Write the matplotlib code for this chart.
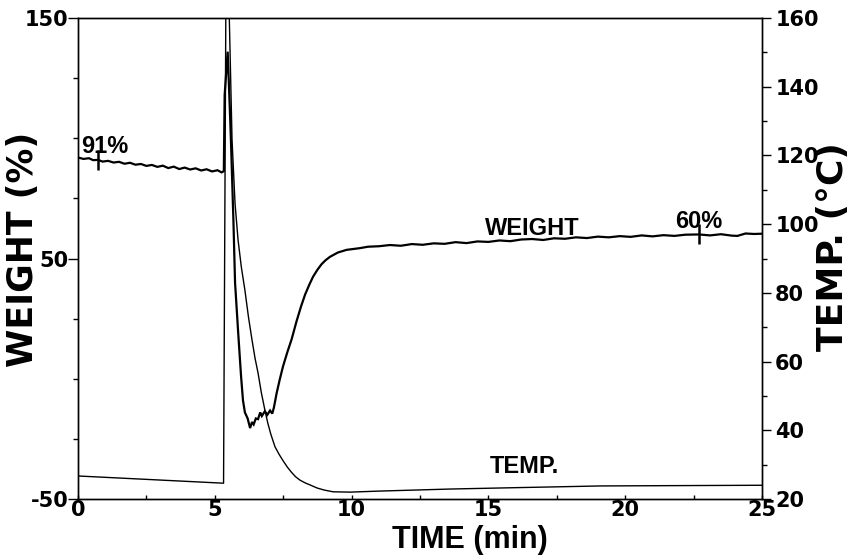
import numpy as np
import matplotlib
matplotlib.use("Agg")
import matplotlib.pyplot as plt
from matplotlib.ticker import MultipleLocator

plt.rcParams['font.family'] = ['Liberation Sans', 'DejaVu Sans']
plt.rcParams['font.weight'] = 'bold'
plt.rcParams['axes.unicode_minus'] = False

# Weight record (%) versus time (min)
time_w = [0.00, 0.20, 0.40, 0.55, 0.73, 0.90, 1.10, 1.30, 1.50, 1.70, 1.90, 2.10,
          2.30, 2.50, 2.70, 2.90, 3.10, 3.30, 3.50, 3.70, 3.90, 4.10, 4.30, 4.50,
          4.70, 4.90, 5.10, 5.25, 5.33,
          5.36, 5.47, 5.55, 5.59, 5.68, 5.74, 5.85, 5.96, 6.03, 6.10, 6.20, 6.29,
          6.36, 6.42, 6.50, 6.58, 6.66, 6.72, 6.83, 6.92, 7.02, 7.10, 7.16, 7.26,
          7.37, 7.49, 7.65, 7.81, 7.99, 8.15, 8.30, 8.45, 8.59, 8.75, 8.90, 9.05,
          9.21, 9.50, 9.82,
          10.3, 10.6, 11.0, 11.4, 11.8, 12.2, 12.6, 13.0, 13.4, 13.8, 14.2, 14.6,
          15.0, 15.4, 15.8, 16.2, 16.6, 17.0, 17.4, 17.8, 18.2, 18.6, 19.0, 19.4,
          19.8, 20.2, 20.6, 21.0, 21.4, 21.8, 22.2, 22.7, 23.1, 23.5, 23.9, 24.1,
          24.4, 24.7, 25.0]
weight = [92.0, 91.4, 91.7, 90.9, 91.0, 90.3, 90.6, 89.9, 90.2, 89.4, 89.8, 89.0,
          89.3, 88.5, 88.9, 88.1, 88.6, 87.6, 88.2, 87.2, 87.8, 87.0, 87.5, 86.6,
          87.1, 86.2, 86.7, 85.8, 86.3,
          118.0, 136.0, 112.0, 99.0, 66.0, 40.0, 20.0, 1.0, -9.0, -14.0, -16.5, -20.5,
          -18.0, -19.0, -16.5, -16.8, -14.0, -15.5, -13.5, -15.0, -13.2, -14.5, -12.0, -6.0,
          -0.5, 5.0, 11.0, 16.5, 24.0, 30.0, 35.0, 39.0, 42.4, 45.3, 47.6, 49.3,
          50.7, 52.5, 53.6,
          54.3, 54.9, 55.1, 55.6, 55.3, 56.0, 55.7, 56.3, 56.1, 56.8, 56.4, 57.1,
          56.9, 57.5, 57.2, 57.9, 58.1, 57.7, 58.4, 58.2, 58.8, 58.5, 59.1, 58.8,
          59.3, 59.0, 59.6, 59.2, 59.7, 59.4, 59.9, 60.0, 59.6, 60.1, 59.5, 59.4,
          60.4, 60.2, 60.3]

# Sample temperature (deg C) versus time (min)
time_t = [0.00, 5.32, 5.42, 5.53, 5.63, 5.74, 5.85, 5.97, 6.10, 6.23, 6.36, 6.47,
          6.58, 6.70, 6.83, 6.94, 7.05, 7.20, 7.35, 7.49, 7.65, 7.80, 7.95, 8.11,
          8.30, 8.45, 8.74, 9.00, 9.32, 9.94, 11.0, 13.6, 16.0, 19.1, 22.0, 25.0]
temp = [26.7, 24.6, 190.0, 160.0, 124.5, 106.0, 95.4, 87.5, 80.8, 73.0, 66.3, 61.0,
        56.7, 51.0, 45.9, 42.0, 38.8, 35.2, 33.0, 31.2, 29.3, 27.8, 26.5, 25.5,
        24.7, 24.2, 23.2, 22.6, 22.1, 22.0, 22.3, 22.9, 23.3, 23.8, 23.9, 24.0]

# Marked weight readings
mark_times = [0.73, 22.7]
mark_labels = ["91%", "60%"]

x_ticks = [0, 5, 10, 15, 20, 25]
w_ticks = [-50, 50, 150]
t_ticks = [20, 40, 60, 80, 100, 120, 140, 160]

fig = plt.figure(figsize=(8.55, 5.6), dpi=100)
ax = fig.add_axes([78 / 855, 1 - 499 / 560, 684 / 855, 481 / 560])
ax2 = ax.twinx()

ax.plot(time_w, weight, color='black', lw=1.6, solid_joinstyle='miter')
ax2.plot(time_t, temp, color='black', lw=1.0)

ax.set_xlim(0, 25)
ax.set_ylim(-50, 150)
ax2.set_ylim(20, 160)

mark_w = np.interp(mark_times, time_w, weight)
ax.plot(mark_times, mark_w, linestyle='none', marker='|', ms=14, mew=1.8,
        color='black')
ax.annotate(mark_labels[0], (mark_times[0], mark_w[0]), xytext=(5, 5),
            textcoords='offset points', ha='center', va='baseline', fontsize=17,
            fontweight='bold')
ax.annotate(mark_labels[1], (mark_times[1], mark_w[1]), xytext=(0, 5),
            textcoords='offset points', ha='center', va='baseline', fontsize=17,
            fontweight='bold')

ax.text(16.6, 62.5, "WEIGHT", ha='center', va='center', fontsize=17,
        fontweight='bold')
ax2.text(16.3, 29.5, "TEMP.", ha='center', va='center', fontsize=17,
         fontweight='bold')

ax.set_xticks(x_ticks)
ax.xaxis.set_minor_locator(MultipleLocator(2.5))
ax.set_yticks(w_ticks)
ax.yaxis.set_minor_locator(MultipleLocator(25))
ax2.set_yticks(t_ticks)
ax2.yaxis.set_minor_locator(MultipleLocator(10))

for spine in list(ax.spines.values()) + list(ax2.spines.values()):
    spine.set_linewidth(1.0)

tick_font = 'DejaVu Sans'
ax.tick_params(axis='x', which='both', direction='in', length=3, width=1,
               labelsize=15, pad=1, labelfontfamily=tick_font)
ax.tick_params(axis='y', which='major', direction='out', length=7, width=1,
               labelsize=15, pad=0, labelfontfamily=tick_font)
ax.tick_params(axis='y', which='minor', direction='out', length=3.5, width=1)
ax2.tick_params(axis='y', which='major', direction='out', length=6.5, width=1,
                labelsize=15, pad=3, labelfontfamily=tick_font)
ax2.tick_params(axis='y', which='minor', direction='out', length=3.5, width=1)

ax.set_xlabel("TIME (min)", fontsize=22, fontweight='bold')
ax.xaxis.set_label_coords(0.573, -0.085)
ax.xaxis.label.set_va('center')
ax.set_ylabel("WEIGHT (%)", fontsize=25, fontweight='bold',
              fontfamily='DejaVu Sans')
ax.yaxis.set_label_coords(-0.0804, 0.52)
ax.yaxis.label.set_va('center')
ax2.set_ylabel("TEMP. (°C)", fontsize=26, fontweight='bold', rotation=90,
               fontfamily='DejaVu Sans')
ax2.yaxis.set_label_coords(1.1038, 0.525)
ax2.yaxis.label.set_va('center')

fig.savefig("out.png", dpi=100)
